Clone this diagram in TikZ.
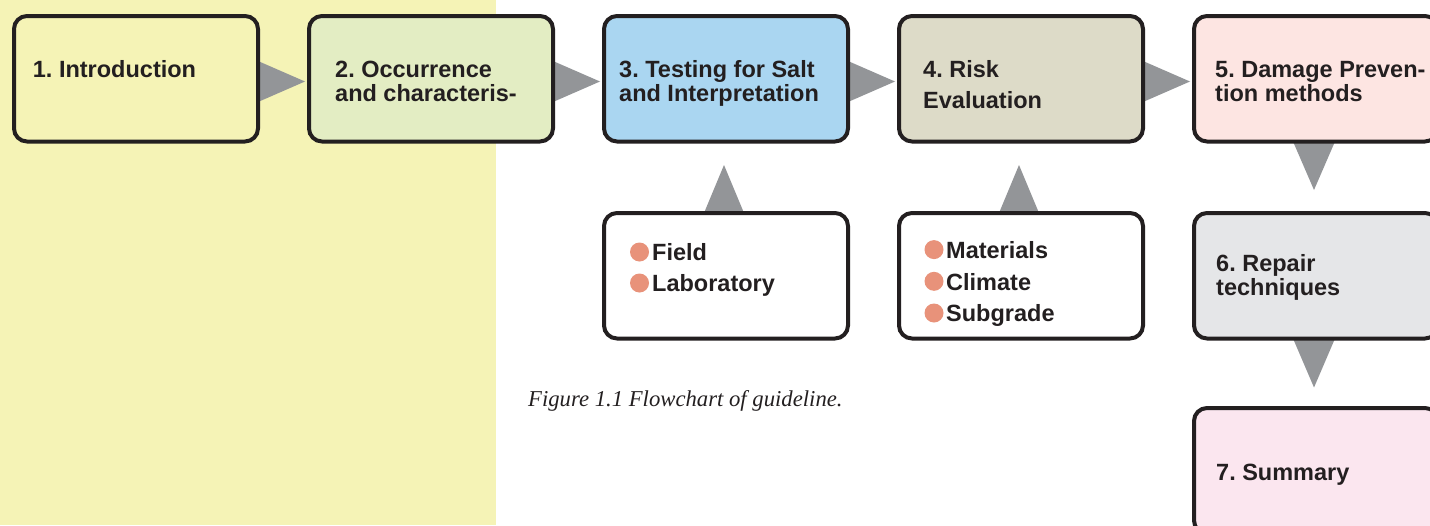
\documentclass[tikz,border=0pt]{standalone}
\usepackage{fontspec}
\setmainfont{Liberation Sans}
\newfontfamily\capfont{Liberation Serif}
\frenchspacing
\pgfdeclarelayer{background}
\pgfsetlayers{background,main}
\definecolor{ink}{HTML}{231F20}
\definecolor{panel}{HTML}{F5F3B6}
\definecolor{cA}{HTML}{F5F3B6}
\definecolor{cB}{HTML}{E3EDC3}
\definecolor{cC}{HTML}{AAD6F1}
\definecolor{cD}{HTML}{DDDBC8}
\definecolor{cE}{HTML}{FDE5E2}
\definecolor{cF}{HTML}{E5E6E8}
\definecolor{cG}{HTML}{FBE6EF}
\definecolor{trigrey}{HTML}{939598}
\definecolor{bul}{HTML}{E8927A}
\begin{document}
\frenchspacing
\begin{tikzpicture}[x=1pt,y=-1pt,
  stagebox/.style={draw=ink, line width=4pt, rounded corners=13pt, rectangle,
    minimum width=244pt, minimum height=125.5pt, inner sep=0pt},
  lbl/.style={font=\bfseries\fontsize{23.5}{24.5}\selectfont\frenchspacing, text=ink,
    anchor=base west, align=left, inner sep=0pt},
  captext/.style={font=\capfont\itshape\fontsize{22.7}{26}\selectfont, text=ink,
    anchor=base west, inner sep=0pt},
  tri/.style={fill=trigrey},
  dot/.style={circle, fill=bul, minimum size=19pt, inner sep=0pt}]
\useasboundingbox (0,0) rectangle (1430,525);
\clip (0,0) rectangle (1430,525);

% boxes
\node[stagebox, fill=cA] (b1) at (136,78.75) {};
\node[stagebox, fill=cB] (b2) at (431,78.75) {};
\node[stagebox, fill=cC] (b3) at (726,78.75) {};
\node[stagebox, fill=cD] (b4) at (1021,78.75) {};
\node[stagebox, fill=cE] (b5) at (1316,78.75) {};
\node[stagebox, fill=cF] (b6) at (1316,275.75) {};
\node[stagebox, fill=cG] (b7) at (1316,470.75) {};
\node[stagebox, fill=white] (s1) at (726,275.75) {};
\node[stagebox, fill=white] (s2) at (1021,275.75) {};

\begin{pgfonlayer}{background}
\fill[panel] (0,0) rectangle (496,525);
% horizontal arrows
\foreach \a/\b in {b1/b2,b2/b3,b3/b4,b4/b5}{
  \fill[tri] ([xshift=-2pt,yshift=17.75pt]\a.east) -- ([xshift=-2pt,yshift=-23.25pt]\a.east)
    -- ([xshift=-2pt,yshift=-2.75pt]\b.west) -- cycle;
}
% down arrows
\fill[tri] ([xshift=-23pt,yshift=2pt]b5.south) -- ([xshift=19pt,yshift=2pt]b5.south)
  -- ([xshift=-2pt,yshift=-46.5pt]b5.south) -- cycle;
\fill[tri] ([xshift=-23pt,yshift=2pt]b6.south) -- ([xshift=19pt,yshift=2pt]b6.south)
  -- ([xshift=-2pt,yshift=-47pt]b6.south) -- cycle;
% up arrows
\fill[tri] ([xshift=-22pt,yshift=-2pt]s1.north) -- ([xshift=18pt,yshift=-2pt]s1.north)
  -- ([xshift=-2pt,yshift=46pt]s1.north) -- cycle;
\fill[tri] ([xshift=-22pt,yshift=-2pt]s2.north) -- ([xshift=18pt,yshift=-2pt]s2.north)
  -- ([xshift=-2pt,yshift=46pt]s2.north) -- cycle;
\end{pgfonlayer}

% labels (base anchor = baseline of last line)
\node[lbl] (t1) at (32.7,77.3) {1. Introduction};
\node[lbl] (t2) at (335,101.7) {2. Occurrence\\and characteris-};
\node[lbl] (t3) at (619,101.7) {3. Testing for Salt\\and Interpretation};
\node[lbl] (t4) at (923,108.3) {4. Risk\\[6.5pt]Evaluation};
\node[lbl] (t5) at (1215,101.7) {5. Damage Preven-\\tion methods};
\node[lbl] (t6) at (1216,295.5) {6. Repair\\techniques};
\node[lbl] (t7) at (1216,480.7) {7. Summary};

% bullet lists
\node[dot] (d1) at (639.5,252) {};
\node[lbl] (f1) at (652,260.7) {Field};
\node[dot] (d2) at (639.5,283) {};
\node[lbl] (f2) at (652,291.7) {Laboratory};
\node[dot] (d3) at (934,249.6) {};
\node[lbl] (m1) at (946,258.3) {Materials};
\node[dot] (d4) at (934,281.3) {};
\node[lbl] (m2) at (946,290) {Climate};
\node[dot] (d5) at (934,313) {};
\node[lbl] (m3) at (946,321.7) {Subgrade};

% caption
\node[captext] (capt) at (528,406) {Figure 1.1 Flowchart of guideline.};
\end{tikzpicture}
\end{document}
